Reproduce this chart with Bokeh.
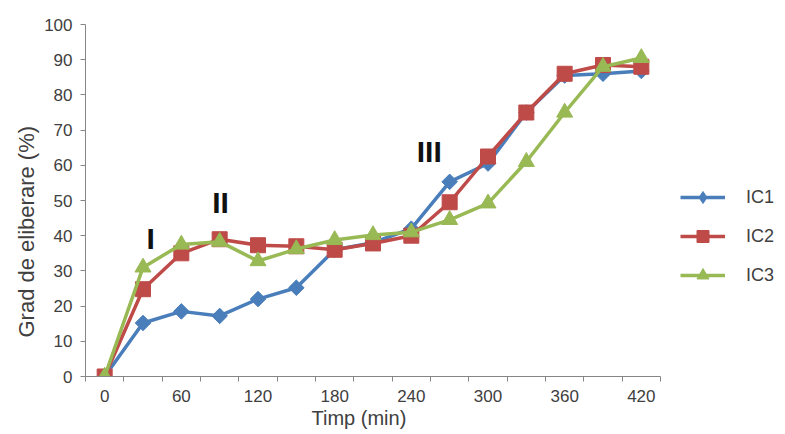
import math
from bokeh.plotting import figure
from bokeh.models import Range1d, FixedTicker, Legend, LegendItem, Label, Title
from bokeh.embed import file_html
from bokeh.resources import INLINE

# ---- data ----
times = [0, 30, 60, 90, 120, 150, 180, 210, 240, 270, 300, 330, 360, 390, 420]
ic1 = [0, 15.2, 18.5, 17.2, 22.0, 25.2, 36.0, 38.0, 42.0, 55.3, 60.5, 75.0, 85.5, 86.0, 86.8]
ic2 = [0, 24.8, 35.0, 39.0, 37.3, 37.0, 36.0, 37.8, 40.0, 49.5, 62.5, 75.0, 86.0, 88.5, 88.0]
ic3 = [0, 31.0, 37.5, 38.3, 32.8, 36.2, 38.8, 40.2, 41.0, 44.5, 49.2, 61.0, 75.0, 88.0, 90.5]
x_tick_labels = [0, 60, 120, 180, 240, 300, 360, 420]
y_tick_labels = [0, 10, 20, 30, 40, 50, 60, 70, 80, 90, 100]
series_names = ["IC1", "IC2", "IC3"]
colors = ["#4A7EBB", "#BE4B48", "#98B954"]

FONT = "Liberation Sans"
TXT = "#404040"
AX = "#868686"

# frame spans the legend area too; the x axis line is bounded to the data categories
X0, X1 = -15, 435
FRAME_L, FRAME_R = 85, 780
px_per_unit = 575.0 / (X1 - X0)
x_end = X0 + (FRAME_R - FRAME_L) / px_per_unit

p = figure(width=785, height=434, output_backend="svg", toolbar_location=None,
           x_range=Range1d(X0, x_end), y_range=Range1d(0, 100),
           min_border_left=FRAME_L, min_border_right=785 - FRAME_R,
           min_border_top=24, min_border_bottom=58)
p.outline_line_color = None
p.grid.visible = False
p.background_fill_color = "white"
p.border_fill_color = "white"

p.xaxis.bounds = (X0, X1)
p.xaxis.ticker = FixedTicker(ticks=x_tick_labels, minor_ticks=[t - 15 for t in times] + [X1])
p.yaxis.ticker = FixedTicker(ticks=y_tick_labels, minor_ticks=[])
for ax in (p.xaxis, p.yaxis):
    ax.axis_line_color = AX
    ax.axis_line_width = 1
    ax.major_tick_line_color = AX
    ax.minor_tick_line_color = AX
    ax.major_label_text_font = FONT
    ax.major_label_text_font_size = "17px"
    ax.major_label_text_color = TXT
    ax.major_tick_in = 0
    ax.minor_tick_in = 0
p.xaxis.major_tick_out = 0
p.xaxis.minor_tick_out = 5
p.xaxis.major_label_standoff = 8
p.yaxis.major_tick_out = 5
p.yaxis.minor_tick_out = 0
p.yaxis.major_label_standoff = 8

items = []
for name, ys, c in zip(series_names, [ic1, ic2, ic3], colors):
    l = p.line(times, ys, line_color=c, line_width=3.5)
    if name == "IC1":
        # diamond drawn under a 45-degree square; the diamond carries the legend shape
        d = p.scatter(times, ys, marker="diamond", size=14, fill_color=c, line_color=c)
        p.scatter(times, ys, marker="square", size=11, angle=math.pi / 4, fill_color=c, line_color=c)
        items.append(LegendItem(label=name, renderers=[l, d]))
    elif name == "IC2":
        sc = p.scatter(times, ys, marker="square", size=15, fill_color=c, line_color=c)
        items.append(LegendItem(label=name, renderers=[l, sc]))
    else:
        sc = p.scatter(times, ys, marker="triangle", size=16, fill_color=c, line_color=c)
        items.append(LegendItem(label=name, renderers=[l, sc]))

legend = Legend(items=items, location=(595, 86), orientation="vertical",
                glyph_width=45, glyph_height=30, spacing=9, label_standoff=21,
                padding=0, margin=0, border_line_color=None, background_fill_alpha=0,
                label_text_font=FONT, label_text_font_size="18px", label_text_color=TXT)
p.add_layout(legend, "center")

# phase annotations
for txt, x, y in [("I", 36, 39.2), ("II", 90.7, 49.3), ("III", 254, 63.9)]:
    p.add_layout(Label(x=x, y=y, text=txt, text_font=FONT, text_font_style="bold",
                       text_font_size="30px", text_color="#111111",
                       text_align="center", text_baseline="middle"))

# axis titles
p.add_layout(Title(text="Timp (min)", align="left", offset=226, standoff=0,
                   text_font=FONT, text_font_size="20px", text_font_style="normal",
                   text_color=TXT), "below")
p.add_layout(Title(text="Grad de eliberare (%)", align="left", offset=39, standoff=6,
                   text_font=FONT, text_font_size="22px", text_font_style="normal",
                   text_color=TXT), "left")

open("out.html", "w").write(file_html(p, INLINE))
